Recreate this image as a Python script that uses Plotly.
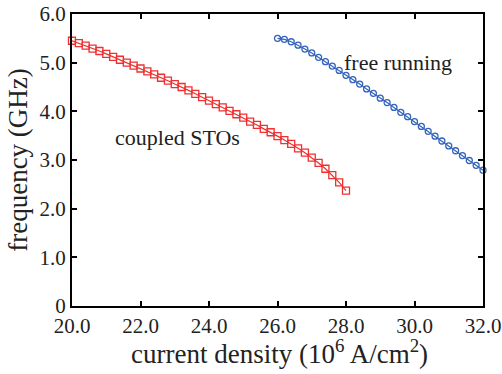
import plotly.graph_objects as go

coupled_x = [round(20.0 + 0.2 * i, 1) for i in range(41)]
coupled_y = [5.45, 5.40, 5.35, 5.29, 5.24, 5.18, 5.12, 5.06, 5.00, 4.94,
             4.88, 4.82, 4.76, 4.69, 4.63, 4.56, 4.50, 4.43, 4.36, 4.29,
             4.22, 4.15, 4.08, 4.01, 3.94, 3.87, 3.79, 3.72, 3.64, 3.57,
             3.49, 3.41, 3.33, 3.24, 3.15, 3.05, 2.94, 2.82, 2.69, 2.54, 2.37]

free_x = [round(26.0 + 0.2 * i, 1) for i in range(31)]
free_y = [5.50, 5.48, 5.43, 5.36, 5.28, 5.20, 5.11, 5.02, 4.93, 4.84,
          4.74, 4.65, 4.56, 4.46, 4.37, 4.27, 4.18, 4.08, 3.98, 3.89,
          3.79, 3.69, 3.59, 3.49, 3.39, 3.29, 3.19, 3.09, 2.99, 2.89, 2.79]

x_ticks = [20, 22, 24, 26, 28, 30, 32]
x_ticklabels = ["20.0", "22.0", "24.0", "26.0", "28.0", "30.0", "32.0"]
y_ticks = [0, 1, 2, 3, 4, 5, 6]
y_ticklabels = ["0", "1.0", "2.0", "3.0", "4.0", "5.0", "6.0"]

red = "rgb(238,48,48)"
blue = "rgb(52,100,190)"

fig = go.Figure()
fig.add_trace(go.Scatter(x=coupled_x, y=coupled_y, mode="lines+markers",
                         line=dict(color=red, width=1.2),
                         marker=dict(symbol="square-open", size=7, color=red,
                                     line=dict(width=1.3, color=red)),
                         showlegend=False, cliponaxis=False))
fig.add_trace(go.Scatter(x=free_x, y=free_y, mode="lines+markers",
                         line=dict(color=blue, width=1.2),
                         marker=dict(symbol="circle-open", size=6, color=blue,
                                     line=dict(width=1.3, color=blue)),
                         showlegend=False, cliponaxis=False))

font_family = "Liberation Serif, Times New Roman, serif"
fig.add_annotation(x=23.07, y=3.47, text="coupled STOs", showarrow=False,
                   font=dict(family=font_family, size=22, color="#222"))
fig.add_annotation(x=29.52, y=5.0, text="free running", showarrow=False,
                   font=dict(family=font_family, size=22, color="#222"))
# x-axis title placed precisely as paper-referenced text
fig.add_annotation(x=0.505, y=-0.158, xref="paper", yref="paper",
                   xanchor="center", yanchor="middle", showarrow=False,
                   text="current density (10<sup>6</sup> A/cm<sup>2</sup>)",
                   font=dict(family=font_family, size=27, color="#222"))

axis_common = dict(showline=True, linecolor="black", linewidth=2, mirror="ticks",
                   ticks="inside", ticklen=5, tickwidth=1.5, tickcolor="black",
                   showgrid=False, zeroline=False, automargin=False,
                   tickfont=dict(family=font_family, size=21, color="#222"))

fig.update_xaxes(range=[20, 32], tickvals=x_ticks, ticktext=x_ticklabels,
                 **axis_common)
fig.update_yaxes(range=[0, 6], tickvals=y_ticks, ticktext=y_ticklabels,
                 title=dict(text="frequency (GHz)",
                            font=dict(family=font_family, size=27, color="#222"),
                            standoff=4),
                 **axis_common)

fig.update_layout(width=502, height=374, margin=dict(l=72, r=19, t=14, b=68),
                  plot_bgcolor="white", paper_bgcolor="white")
fig.write_html("out.html", config={"displayModeBar": False},
               post_script="document.body.style.margin='0';")
